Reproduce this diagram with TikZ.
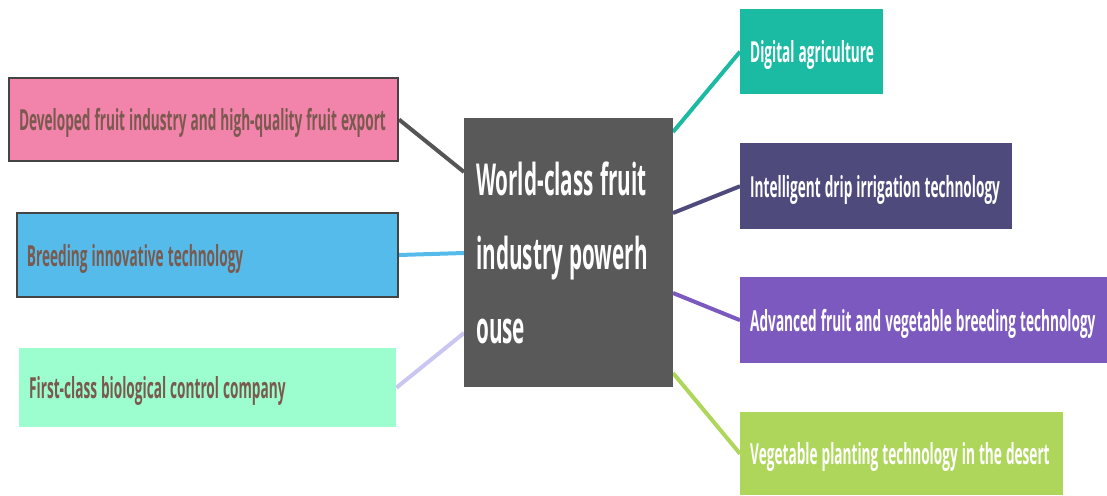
\documentclass[tikz,border=0pt]{standalone}
\usepackage{fontspec}
\setmainfont{Open Sans}[FakeStretch=0.47]
\usetikzlibrary{backgrounds}

% palette
\definecolor{hubgray}{HTML}{595959}
\definecolor{edgegray}{HTML}{444444}
\definecolor{linkgray}{HTML}{555555}
\definecolor{pinkfill}{HTML}{F283AB}
\definecolor{bluefill}{HTML}{55BBEA}
\definecolor{mintfill}{HTML}{9CFDCF}
\definecolor{lavlink}{HTML}{C9C6F2}
\definecolor{tealfill}{HTML}{1BBAA3}
\definecolor{navyfill}{HTML}{4E4A7C}
\definecolor{violetfill}{HTML}{7B59BF}
\definecolor{limefill}{HTML}{AED65B}
\definecolor{browntext}{HTML}{7A5A4E}

\begin{document}
\begin{tikzpicture}[x=1pt,y=-1pt,
  tight/.style={execute at begin node={\hyphenpenalty=10000\spaceskip=0.14em\relax}},
  box/.style={anchor=north west, inner xsep=10pt, inner ysep=0pt,
    text height=24pt, text depth=2pt,
    align=left, tight, font=\fontsize{29}{31}\selectfont\bfseries},
  leftbox/.style={box, text=browntext},
  rightbox/.style={box, text=white},
  framed/.style={draw=edgegray, line width=2pt},
  hubbox/.style={anchor=north west, fill=hubgray, text=white,
    inner xsep=12pt, inner ysep=0pt, align=left, tight,
    minimum width=209pt, minimum height=269pt, text width=185pt,
    font=\fontsize{44}{74}\selectfont\bfseries},
  link/.style={line width=4pt}
]
\useasboundingbox (0,0) rectangle (1107,495);

% central topic
\node[hubbox] (hub) at (464,118) {\mbox{World-class fruit}\\\mbox{industry powerh}\\ouse};

% left branches
\node[leftbox, framed, fill=pinkfill, minimum height=83pt, text width=369pt] (fruit) at (8,77)
  {\mbox{Developed fruit industry and high-quality fruit export}};
\node[leftbox, framed, fill=bluefill, minimum height=84pt, text width=361pt] (breed) at (16,212)
  {\mbox{Breeding innovative technology}};
\node[leftbox, fill=mintfill, minimum height=79pt, text width=357pt] (bio) at (19,348)
  {\mbox{First-class biological control company}};

% right branches
\node[rightbox, fill=tealfill, minimum height=85pt, text width=123pt] (digital) at (740,9)
  {\mbox{Digital agriculture}};
\node[rightbox, fill=navyfill, minimum height=86pt, text width=252pt] (drip) at (740,143)
  {\mbox{Intelligent drip irrigation technology}};
\node[rightbox, fill=violetfill, minimum height=86pt, text width=347pt] (adv) at (740,277)
  {\mbox{Advanced fruit and vegetable breeding technology}};
\node[rightbox, fill=limefill, minimum height=83pt, text width=303pt] (desert) at (740,412)
  {\mbox{Vegetable planting technology in the desert}};

% attachment points on the central box
\coordinate (h1) at (464,172);
\coordinate (h2) at (464,253);
\coordinate (h3) at (464,333);
\coordinate (h4) at (673,132);
\coordinate (h5) at (673,213);
\coordinate (h6) at (673,293);
\coordinate (h7) at (673,373);

\begin{pgfonlayer}{background}
\draw[link, linkgray] (fruit.east) -- (h1);
\draw[link, bluefill] (breed.east) -- (h2);
\draw[link, lavlink] (bio.east) -- (h3);
\draw[link, tealfill] (digital.west) -- (h4);
\draw[link, navyfill] (drip.west) -- (h5);
\draw[link, violetfill] (adv.west) -- (h6);
\draw[link, limefill] (desert.west) -- (h7);
\end{pgfonlayer}
\end{tikzpicture}
\end{document}
